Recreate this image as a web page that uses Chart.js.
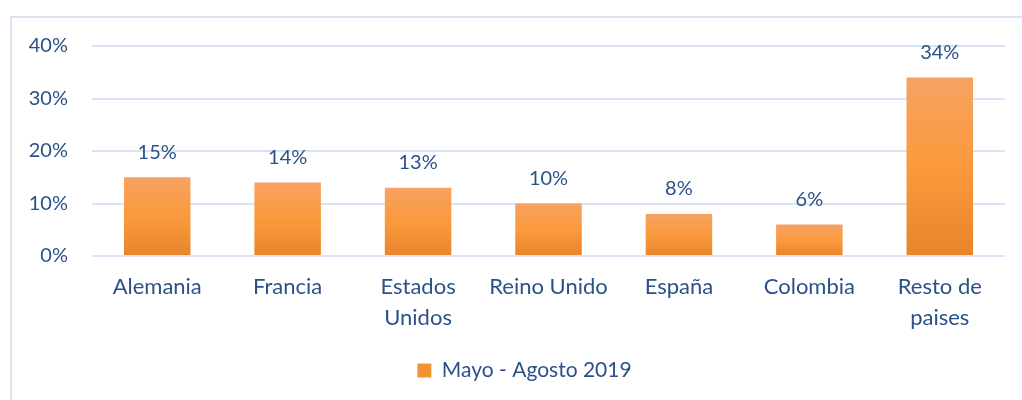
<!DOCTYPE html>
<html>
<head>
<meta charset="utf-8">
<script src="https://cdn.jsdelivr.net/npm/chart.js@4"></script>
<style>
  html,body{margin:0;padding:0;background:#fff;overflow:hidden;}
  #frame{position:absolute;left:10px;top:16px;width:1100px;height:500px;border:2px solid #dbe4f2;}
  #wrap{position:absolute;left:0;top:0;width:1022px;height:400px;}
</style>
</head>
<body>
<div id="frame"></div>
<div id="wrap"><canvas id="mychart" width="1022" height="400"></canvas></div>
<script>
var categories=[["Alemania"],["Francia"],["Estados","Unidos"],["Reino Unido"],["España"],["Colombia"],["Resto de","paises"]]
var values=[15,14,13,10,8,6,34]
var seriesName="Mayo - Agosto 2019"
var yTicks=[0,10,20,30,40]

var textColor="#2b5288"
var gridColor="#d9e3f3"
var fontFamily="Lato, 'Open Sans', sans-serif"

function barGradient(c){
    var chart=c.chart
    var y=chart.scales.y
    if(!y || c.dataIndex===undefined) return "#fb9a3c"
    var top=y.getPixelForValue(values[c.dataIndex])
    var base=y.getPixelForValue(0)
    var g=chart.ctx.createLinearGradient(0,top,0,base)
    g.addColorStop(0,"#f7a263")
    g.addColorStop(0.5,"#fb9a3c")
    g.addColorStop(1,"#e8842c")
    return g
}

// value labels above each bar
var valueLabels={
    id:"valueLabels",
    afterLayout:function(chart){
        // legend is centred under the whole frame, not under the plot
        if(chart.legend){chart.legend.left+=22;chart.legend.right+=22}
    },
    afterDatasetsDraw:function(chart){
        var ctx=chart.ctx
        var meta=chart.getDatasetMeta(0)
        ctx.save()
        ctx.fillStyle=textColor
        ctx.font="20px "+fontFamily
        ctx.textAlign="center"
        ctx.textBaseline="middle"
        meta.data.forEach(function(bar,i){
            ctx.fillText(values[i]+"%",bar.x,bar.y-25)
        })
        ctx.restore()
    }
}

var mychart=document.getElementById("mychart").getContext("2d")
var chart=new Chart(mychart,{
    type:"bar",
    data:{
        labels:categories,
        datasets:[{
            label:seriesName,
            data:values,
            backgroundColor:barGradient,
            categoryPercentage:1,
            barPercentage:0.51
        }]
    },
    options:{
        responsive:false,
        animation:false,
        layout:{padding:{top:46,right:17,left:0,bottom:9}},
        scales:{
            x:{
                grid:{display:false,drawTicks:false},
                border:{display:false},
                ticks:{color:textColor,font:{family:fontFamily,size:22,lineHeight:1.41},padding:15,maxRotation:0,autoSkip:false},
                afterFit:function(s){s.height=92}
            },
            y:{
                min:0,max:40,
                afterBuildTicks:function(s){s.ticks=yTicks.map(function(v){return {value:v}})},
                grid:{color:gridColor,lineWidth:2,drawTicks:false},
                border:{display:false},
                ticks:{color:textColor,font:{family:fontFamily,size:20},padding:24,callback:function(v){return v+"%"}},
                afterFit:function(s){s.width=92}
            }
        },
        plugins:{
            legend:{
                position:"bottom",
                labels:{
                    color:textColor,
                    font:{family:fontFamily,size:21},
                    boxWidth:14,boxHeight:14,padding:12,
                    generateLabels:function(){
                        return [{text:seriesName,fillStyle:"#f39133",strokeStyle:"#f39133",lineWidth:0,datasetIndex:0,fontColor:textColor}]
                    }
                }
            },
            tooltip:{enabled:false}
        }
    },
    plugins:[valueLabels]
})
</script>
</body>
</html>
